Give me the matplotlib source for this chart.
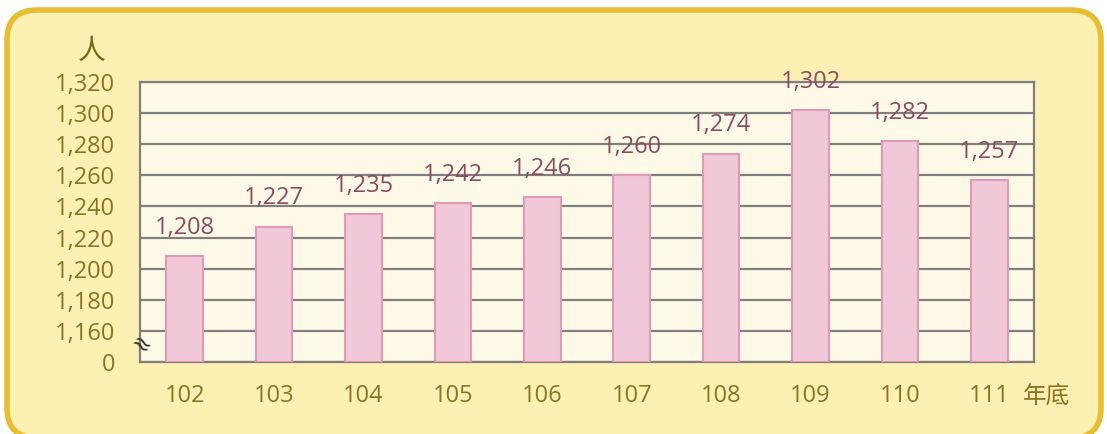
from matplotlib import pyplot as plt
from matplotlib.patches import FancyBboxPatch
import numpy as np

plt.rcParams['font.family'] = ['Open Sans', 'Noto Sans CJK TC', 'DejaVu Sans']

# datos
years = ['102', '103', '104', '105', '106', '107', '108', '109', '110', '111']
people = [1208, 1227, 1235, 1242, 1246, 1260, 1274, 1302, 1282, 1257]
yticks = [1140, 1160, 1180, 1200, 1220, 1240, 1260, 1280, 1300, 1320]
ytick_labels = ['0', '1,160', '1,180', '1,200', '1,220', '1,240', '1,260', '1,280', '1,300', '1,320']

base = 1140  # el "0" del eje cortado

tick_color = '#8A7424'
value_color = '#8C4A62'
grid_color = '#7F7F7F'

fig = plt.figure(figsize=(11.07, 4.34), dpi=100)
fig.patch.set_facecolor('white')

# fondo: marco redondeado (coordenadas en pixeles)
bg = fig.add_axes([0, 0, 1, 1], zorder=-1)
bg.set_xlim(0, 1107)
bg.set_ylim(434, 0)
bg.axis('off')
bg.add_patch(FancyBboxPatch((7, 10), 1094, 428,
                            boxstyle='round,pad=0,rounding_size=30',
                            facecolor='#FEF0B2', edgecolor='#E7BD32',
                            linewidth=4))

ax = fig.add_axes([140 / 1107, 72 / 434, 894 / 1107, 280 / 434])
ax.set_facecolor('#FFFAE8')

x = np.arange(len(years))
heights = [p - base for p in people]
ax.bar(x, heights, bottom=base, width=0.41, color='#F0C8D8',
       edgecolor='#E09AB6', linewidth=1.5, zorder=3)

for xi, p in zip(x, people):
    ax.annotate(f'{p:,}', xy=(xi, p), xytext=(0, 16), textcoords='offset points',
                ha='center', va='baseline', fontsize=17, color=value_color, zorder=4)

ax.set_xlim(-0.5, len(years) - 0.5)
ax.set_ylim(base, 1320)
ax.set_yticks(yticks)
ax.set_yticklabels(ytick_labels)
ax.yaxis.grid(True, color=grid_color, linewidth=1.6, zorder=1)
ax.set_axisbelow(True)
ax.set_xticks(x)
ax.set_xticklabels(years)
ax.tick_params(axis='both', length=0, labelsize=17, labelcolor=tick_color)
ax.tick_params(axis='x', pad=16)
ax.tick_params(axis='y', pad=18)

for s in ax.spines.values():
    s.set_color(grid_color)
    s.set_linewidth(1.6)

# marca de corte
ax.text(-0.5, 1150.3, '≈', ha='center', va='center', fontsize=17,
        rotation=-35, color='#333333', zorder=5, clip_on=False,
        family='DejaVu Sans')

fig.text(92 / 1107, 1 - 52 / 434, '人', ha='center', va='center',
         fontsize=20, color='#7A6418')
fig.text(1047 / 1107, 1 - 397 / 434, '年底', ha='center', va='center',
         fontsize=17, color=tick_color)

plt.savefig('out.png', dpi=100)
